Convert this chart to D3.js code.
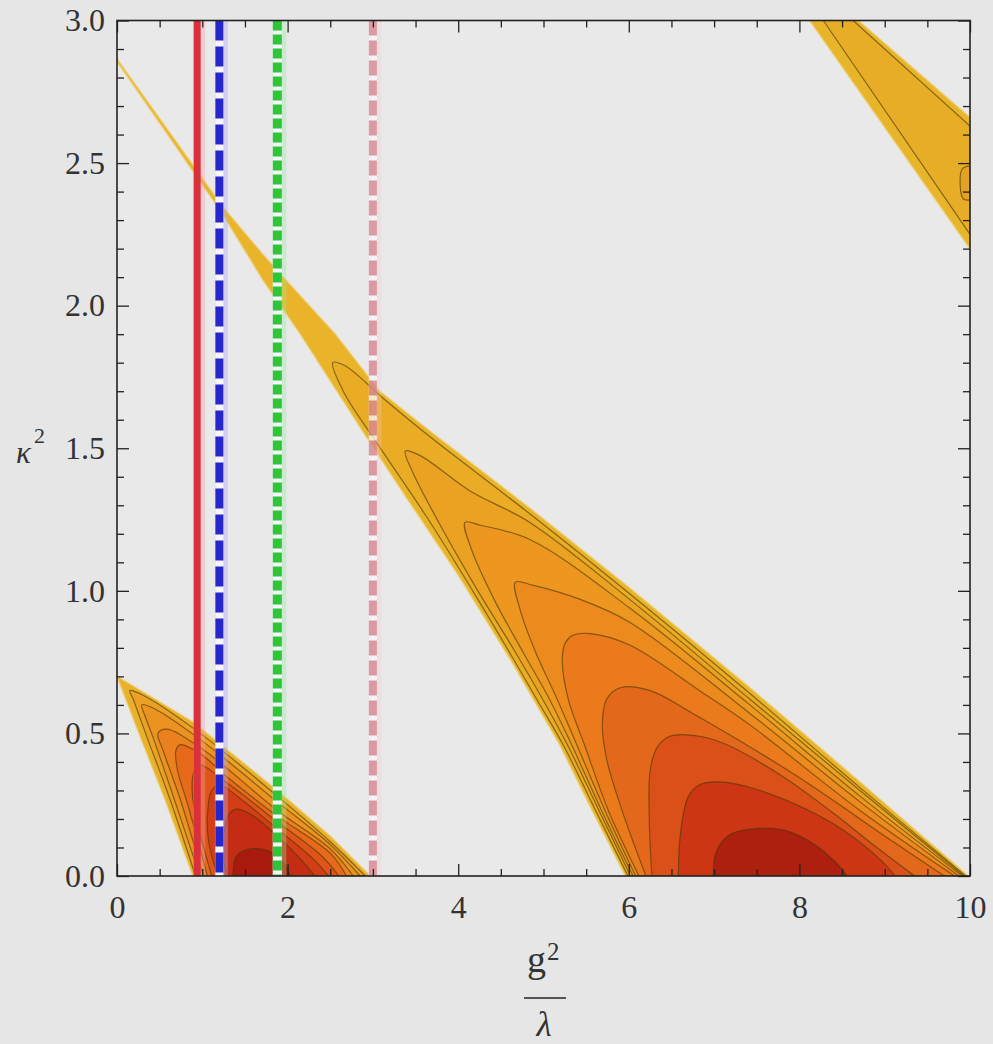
<!DOCTYPE html>
<html>
<head>
<meta charset="utf-8">
<script src="https://cdn.jsdelivr.net/npm/d3@7"></script>
<style>
  body { margin: 0; background: #e6e6e6; }
  svg { display: block; }
  .tick text { font-family: "Liberation Serif", serif; font-size: 32px; fill: #333; }
</style>
</head>
<body>
<div id="chart"></div>
<script>
// ===== values (x = g^2/lambda, y = kappa^2) =====
var xMajor = [0, 2, 4, 6, 8, 10];
var xMinor = [0.5, 1, 1.5, 2.5, 3, 3.5, 4.5, 5, 5.5, 6.5, 7, 7.5, 8.5, 9, 9.5];
var yMajor = [0, 0.5, 1, 1.5, 2, 2.5, 3];
var yMinor = [0.1, 0.2, 0.3, 0.4, 0.6, 0.7, 0.8, 0.9, 1.1, 1.2, 1.3, 1.4,
              1.6, 1.7, 1.8, 1.9, 2.1, 2.2, 2.3, 2.4, 2.6, 2.7, 2.8, 2.9];

// vertical reference lines
var guideX = [0.94, 1.20, 1.88, 3.00];

// big wedge: outer region (with the thin sliver up to the left frame)
var bigOuter = [
  [0, 2.866], [1.23, 2.35], [1.71, 2.18], [1.95, 2.10], [2.56, 1.90], [3.08, 1.70],
  [3.67, 1.56], [4.84, 1.29], [6.01, 1.01], [7.42, 0.66], [8.71, 0.33], [9.98, 0],
  [5.96, 0], [5.57, 0.23], [5.19, 0.46], [4.61, 0.76], [3.99, 1.06], [3.43, 1.31],
  [2.88, 1.56], [2.15, 1.90], [1.71, 2.09], [1.23, 2.325], [0, 2.856]
];
// big wedge contour levels, outer to inner
var bigLevels = [
  [[5.99, 0], [5.61, 0.23], [5.23, 0.46], [4.92, 0.62], [4.59, 0.79], [4.17, 1.00], [3.65, 1.25],
   [3.02, 1.53], [2.67, 1.69], [2.53, 1.80], [2.67, 1.79], [3.14, 1.67], [3.67, 1.54],
   [4.84, 1.27], [6.01, 0.99], [7.42, 0.64], [8.71, 0.31], [9.95, 0]],
  [[6.02, 0], [5.65, 0.23], [5.28, 0.46], [4.99, 0.62], [4.66, 0.79], [4.23, 1.00], [3.79, 1.23],
   [3.46, 1.42], [3.38, 1.49], [3.55, 1.475], [4.14, 1.35], [4.84, 1.24], [6.01, 0.97],
   [7.42, 0.62], [8.71, 0.30], [9.93, 0]],
  [[6.05, 0], [5.68, 0.23], [5.33, 0.46], [5.07, 0.62], [4.75, 0.79], [4.42, 0.97], [4.15, 1.15],
   [4.08, 1.24], [4.26, 1.23], [4.84, 1.18], [6.01, 0.94], [7.42, 0.60], [8.71, 0.28], [9.91, 0]],
  [[6.08, 0], [5.72, 0.23], [5.39, 0.46], [5.16, 0.62], [4.90, 0.79], [4.73, 0.93], [4.67, 1.03],
   [4.87, 1.02], [5.43, 0.97], [6.01, 0.89], [7.42, 0.57], [8.71, 0.26], [9.87, 0]],
  [[6.12, 0], [5.76, 0.23], [5.48, 0.46], [5.29, 0.62], [5.22, 0.76], [5.26, 0.82], [5.35, 0.845],
   [5.55, 0.85], [6.01, 0.81], [6.83, 0.65], [7.42, 0.53], [8.71, 0.23], [9.82, 0]],
  [[6.20, 0], [5.92, 0.23], [5.74, 0.41], [5.69, 0.53], [5.74, 0.62], [5.90, 0.66], [6.25, 0.65],
   [6.75, 0.57], [7.92, 0.36], [9.10, 0.12], [9.70, 0]],
  [[6.27, 0], [6.24, 0.20], [6.25, 0.37], [6.33, 0.45], [6.48, 0.49], [6.83, 0.49], [7.15, 0.46],
   [7.80, 0.35], [8.40, 0.22], [8.95, 0.09], [9.35, 0]],
  [[6.58, 0], [6.61, 0.16], [6.70, 0.28], [6.83, 0.32], [7.07, 0.33], [7.54, 0.30], [8.36, 0.19],
   [8.94, 0.06], [9.12, 0]],
  [[6.99, 0], [7.02, 0.08], [7.16, 0.14], [7.44, 0.165], [7.83, 0.16], [8.18, 0.11], [8.42, 0.05],
   [8.56, 0]]
];

// small wedge near the origin
var smallOuter = [
  [0.89, 0], [0.56, 0.27], [0.27, 0.49], [0, 0.70], [0.39, 0.63], [0.89, 0.54],
  [1.88, 0.30], [2.50, 0.14], [2.97, 0]
];
var smallLevels = [
  [[0.92, 0], [0.62, 0.27], [0.36, 0.48], [0.19, 0.62], [0.15, 0.65], [0.30, 0.635], [0.91, 0.515],
   [1.88, 0.28], [2.50, 0.12], [2.91, 0]],
  [[0.97, 0], [0.67, 0.27], [0.43, 0.48], [0.33, 0.56], [0.29, 0.60], [0.45, 0.585], [0.97, 0.48],
   [1.88, 0.26], [2.50, 0.11], [2.85, 0]],
  [[1.01, 0], [0.74, 0.27], [0.54, 0.44], [0.48, 0.50], [0.58, 0.515], [1.00, 0.445], [1.88, 0.23],
   [2.50, 0.095], [2.77, 0]],
  [[1.06, 0], [0.83, 0.25], [0.71, 0.37], [0.69, 0.44], [0.74, 0.46], [0.97, 0.43], [1.32, 0.34],
   [1.88, 0.21], [2.50, 0.08], [2.69, 0]],
  [[1.11, 0], [0.93, 0.20], [0.88, 0.30], [0.90, 0.365], [0.96, 0.39], [1.32, 0.32], [1.88, 0.19],
   [2.40, 0.07], [2.60, 0]],
  [[1.18, 0], [1.07, 0.13], [1.07, 0.25], [1.11, 0.30], [1.20, 0.32], [1.45, 0.27], [1.88, 0.165],
   [2.30, 0.06], [2.48, 0]],
  [[1.28, 0], [1.24, 0.09], [1.27, 0.18], [1.32, 0.22], [1.40, 0.235], [1.60, 0.21], [1.88, 0.14],
   [2.15, 0.06], [2.32, 0]],
  [[1.36, 0], [1.40, 0.07], [1.56, 0.095], [1.80, 0.085], [1.97, 0.04], [2.03, 0]]
];

// wedge in the upper right corner
var cornerOuter = [[8.12, 3], [8.69, 3], [10, 2.66], [10, 2.20]];
var cornerLevels = [
  [[8.28, 3], [8.63, 3], [10, 2.63], [10, 2.25]],
  [[10, 2.49], [9.91, 2.48], [9.885, 2.42], [9.92, 2.375], [10, 2.37]]
];

// fill colours per band, outer to inner
var bigColors = ["#e9b42a", "#eaab25", "#eba222", "#ed9720", "#ec8a1e", "#ea7a1c",
                 "#e4681b", "#db5018", "#cc3614", "#ad1f0e"];
var smallColors = ["#e9b02b", "#eaa125", "#eb9221", "#ea801e", "#e76a1b", "#e05419",
                   "#d43e16", "#c42c13", "#a81a0d"];
var cornerColors = ["#e8b42a", "#e7ad26", "#e3a223"];

// ===== chart =====
var svgWidth = 993;
var svgHeight = 1044;
var margin = { top: 20.5, left: 117 };
var chartWidth = 853;
var chartHeight = 855.5;

var svg = d3.select("#chart")
  .append("svg")
  .attr("width", svgWidth)
  .attr("height", svgHeight);

svg.append("rect")
  .attr("width", svgWidth)
  .attr("height", svgHeight)
  .attr("fill", "#e6e6e6");

svg.append("defs").append("clipPath")
  .attr("id", "plotClip")
  .append("rect")
  .attr("width", chartWidth)
  .attr("height", chartHeight);

var chartGroup = svg.append("g")
  .attr("transform", `translate(${margin.left}, ${margin.top})`);

var xLinearScale = d3.scaleLinear().domain([0, 10]).range([0, chartWidth]);
var yLinearScale = d3.scaleLinear().domain([0, 3]).range([chartHeight, 0]);

chartGroup.append("rect")
  .attr("width", chartWidth)
  .attr("height", chartHeight)
  .attr("fill", "#e9e9ea");

var plot = chartGroup.append("g").attr("clip-path", "url(#plotClip)");

var straightLine = d3.line()
  .x(d => xLinearScale(d[0]))
  .y(d => yLinearScale(d[1]))
  .curve(d3.curveLinearClosed);

var smoothLine = d3.line()
  .x(d => xLinearScale(d[0]))
  .y(d => yLinearScale(d[1]))
  .curve(d3.curveCatmullRom.alpha(0.5));

// outer band gets a soft yellow rim, the levels get the dark contour lines
function drawRegion(outer, levels, colors, levelLine) {
  plot.append("path")
    .attr("d", straightLine(outer))
    .attr("fill", colors[0])
    .attr("stroke", "#eccb5e")
    .attr("stroke-width", 1.8)
    .attr("stroke-opacity", 0.55)
    .attr("stroke-linejoin", "round");

  levels.forEach(function(pts, i) {
    plot.append("path")
      .attr("d", levelLine(pts) + (levelLine === smoothLine ? "Z" : ""))
      .attr("fill", colors[i + 1])
      .attr("stroke", "#4a3806")
      .attr("stroke-opacity", 0.62)
      .attr("stroke-width", 1.2)
      .attr("stroke-linejoin", "round");
  });
}

drawRegion(bigOuter, bigLevels, bigColors, smoothLine);
drawRegion(smallOuter, smallLevels, smallColors, smoothLine);
drawRegion(cornerOuter, cornerLevels.slice(0, 1), cornerColors, straightLine);
plot.append("path")
  .attr("d", smoothLine(cornerLevels[1]) + "Z")
  .attr("fill", cornerColors[2])
  .attr("stroke", "#4a3806")
  .attr("stroke-opacity", 0.62)
  .attr("stroke-width", 1.2);

// vertical guide lines: solid red, dashed blue, dashed green, dashed pink
var guideStyle = [
  { color: "#d9303b", halo: "rgba(245,160,170,0.35)", dash: null, w: 7, opacity: 1 },
  { color: "#2626cc", halo: "rgba(170,170,245,0.40)", dash: "20,6", w: 8, opacity: 1 },
  { color: "#30c43a", halo: "rgba(150,235,150,0.35)", dash: "10,4", w: 9, opacity: 1 },
  { color: "#d88790", halo: "rgba(245,200,205,0.35)", dash: "15,5", w: 8, opacity: 0.8 }
];

guideX.forEach(function(v, i) {
  var s = guideStyle[i];
  var gx = xLinearScale(v);
  var lg = plot.append("g").attr("opacity", s.opacity);
  // halo sits a little to the right, like the blur in the picture
  lg.append("line")
    .attr("x1", gx + 2).attr("x2", gx + 2)
    .attr("y1", yLinearScale(0)).attr("y2", yLinearScale(3))
    .attr("stroke", s.halo)
    .attr("stroke-width", s.w + 5);
  if (s.dash) {
    lg.append("line")
      .attr("x1", gx).attr("x2", gx)
      .attr("y1", yLinearScale(3)).attr("y2", yLinearScale(0))
      .attr("stroke", "#f6f6fa")
      .attr("stroke-width", s.w);
  }
  lg.append("line")
    .attr("x1", gx).attr("x2", gx)
    .attr("y1", yLinearScale(3)).attr("y2", yLinearScale(0))
    .attr("stroke", s.color)
    .attr("stroke-width", s.w)
    .attr("stroke-dasharray", s.dash);
});

// ticks on all four sides, pointing inward
function addAxis(axis, transform) {
  var a = chartGroup.append("g")
    .attr("transform", transform)
    .call(axis);
  a.select(".domain").remove();
  a.selectAll(".tick line").attr("stroke", "#222").attr("stroke-width", 1.3);
  return a;
}

addAxis(d3.axisBottom(xLinearScale).tickValues(xMajor).tickSize(-12).tickPadding(19)
  .tickFormat(d3.format("d")), `translate(0, ${chartHeight})`);
addAxis(d3.axisBottom(xLinearScale).tickValues(xMinor).tickSize(-7).tickFormat(""),
  `translate(0, ${chartHeight})`);
addAxis(d3.axisTop(xLinearScale).tickValues(xMajor).tickSize(-12).tickFormat(""), "translate(0, 0)");
addAxis(d3.axisTop(xLinearScale).tickValues(xMinor).tickSize(-7).tickFormat(""), "translate(0, 0)");
addAxis(d3.axisLeft(yLinearScale).tickValues(yMajor).tickSize(-12).tickPadding(12)
  .tickFormat(d3.format(".1f")), "translate(0, 0)");
addAxis(d3.axisLeft(yLinearScale).tickValues(yMinor).tickSize(-7).tickFormat(""), "translate(0, 0)");
addAxis(d3.axisRight(yLinearScale).tickValues(yMajor).tickSize(-12).tickFormat(""),
  `translate(${chartWidth}, 0)`);
addAxis(d3.axisRight(yLinearScale).tickValues(yMinor).tickSize(-7).tickFormat(""),
  `translate(${chartWidth}, 0)`);

// frame
chartGroup.append("rect")
  .attr("width", chartWidth)
  .attr("height", chartHeight)
  .attr("fill", "none")
  .attr("stroke", "#222")
  .attr("stroke-width", 1.6);

// axis titles
var serif = "Liberation Serif, serif";
svg.append("text")
  .attr("x", 16).attr("y", 463)
  .attr("font-family", serif).attr("font-size", 31).attr("font-style", "italic")
  .attr("fill", "#333")
  .text("κ");
svg.append("text")
  .attr("x", 34).attr("y", 443)
  .attr("font-family", serif).attr("font-size", 22)
  .attr("fill", "#333")
  .text("2");

svg.append("text")
  .attr("x", 527).attr("y", 972)
  .attr("font-family", serif).attr("font-size", 38)
  .attr("fill", "#333")
  .text("g");
svg.append("text")
  .attr("x", 547).attr("y", 960)
  .attr("font-family", serif).attr("font-size", 25)
  .attr("fill", "#333")
  .text("2");
svg.append("line")
  .attr("x1", 524).attr("x2", 566)
  .attr("y1", 998).attr("y2", 998)
  .attr("stroke", "#222").attr("stroke-width", 1.6);
svg.append("text")
  .attr("x", 544).attr("y", 1036)
  .attr("text-anchor", "middle")
  .attr("font-family", serif).attr("font-size", 35).attr("font-style", "italic")
  .attr("fill", "#333")
  .text("λ");
</script>
</body>
</html>
